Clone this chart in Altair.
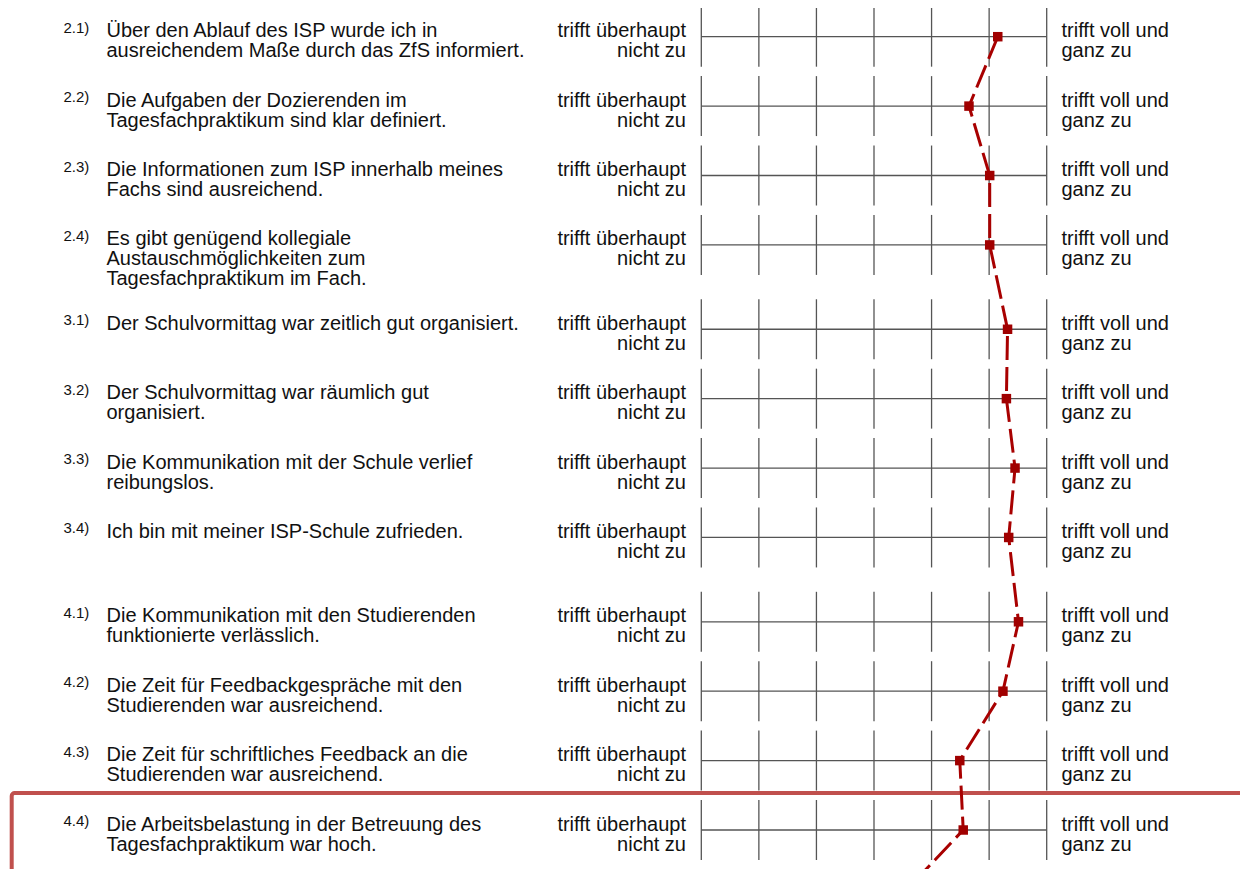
import altair as alt
import pandas as pd

# ---- data -------------------------------------------------------------
numbers = ["2.1)", "2.2)", "2.3)", "2.4)",
           "3.1)", "3.2)", "3.3)", "3.4)",
           "4.1)", "4.2)", "4.3)", "4.4)"]
groups = [0, 0, 0, 0, 1, 1, 1, 1, 2, 2, 2, 2]
statements = [
    ["Über den Ablauf des ISP wurde ich in", "ausreichendem Maße durch das ZfS informiert."],
    ["Die Aufgaben der Dozierenden im", "Tagesfachpraktikum sind klar definiert."],
    ["Die Informationen zum ISP innerhalb meines", "Fachs sind ausreichend."],
    ["Es gibt genügend kollegiale", "Austauschmöglichkeiten zum", "Tagesfachpraktikum im Fach."],
    ["Der Schulvormittag war zeitlich gut organisiert."],
    ["Der Schulvormittag war räumlich gut", "organisiert."],
    ["Die Kommunikation mit der Schule verlief", "reibungslos."],
    ["Ich bin mit meiner ISP-Schule zufrieden."],
    ["Die Kommunikation mit den Studierenden", "funktionierte verlässlich."],
    ["Die Zeit für Feedbackgespräche mit den", "Studierenden war ausreichend."],
    ["Die Zeit für schriftliches Feedback an die", "Studierenden war ausreichend."],
    ["Die Arbeitsbelastung in der Betreuung des", "Tagesfachpraktikum war hoch."],
]
values = [6.15, 5.65, 6.01, 6.01, 6.32, 6.30, 6.45, 6.34, 6.51, 6.24, 5.49, 5.55]
# the profile line continues to the next item, which lies below the visible area
next_value = 4.41
scale_ticks = [1, 2, 3, 4, 5, 6, 7]
left_label = ["trifft überhaupt", "nicht zu"]
right_label = ["trifft voll und", "ganz zu"]
highlight_item = "4.4)"

# ---- layout helpers ---------------------------------------------------
GROUP_GAP = 0.215   # extra space between item blocks (in row units)
HALF = 0.432        # half height of the vertical scale ticks (row units)
FONT = "Liberation Sans"
TEXT_SIZE = 20
LINE_RED = "#a80000"
BOX_RED = "#c0504d"

pos = [i + GROUP_GAP * g for i, g in enumerate(groups)]
rows = pd.DataFrame({
    "num": numbers,
    "text": statements,
    "value": values,
    "pos": pos,
    "lo": [p - HALF for p in pos],
    "hi": [p + HALF for p in pos],
    "xmin": min(scale_ticks),
    "xmax": max(scale_ticks),
    "left": [left_label] * len(numbers),
    "right": [right_label] * len(numbers),
})

ticks = pd.DataFrame([
    {"tick": t, "lo": r.lo, "hi": r.hi} for r in rows.itertuples() for t in scale_ticks
])

next_pos = len(numbers) + GROUP_GAP * groups[-1]
profile = pd.DataFrame({
    "value": values + [next_value],
    "pos": pos + [next_pos],
    "order": list(range(len(values) + 1)),
})

hl_pos = rows.loc[rows["num"] == highlight_item, "pos"].iloc[0]
highlight = pd.DataFrame({"top": [hl_pos - 0.533]})

xs = alt.Scale(domain=[1, 7], range=[693.3, 1038.7], zero=False, nice=False)
ys = alt.Scale(domain=[0, 11.43], range=[28.7, 822], zero=False, nice=False)

base = alt.Chart(rows)

vticks = alt.Chart(ticks).mark_rule(color="#555555", strokeWidth=1.3).encode(
    x=alt.X("tick:Q", scale=xs, axis=None),
    y=alt.Y("lo:Q", scale=ys, axis=None),
    y2="hi:Q",
)

hlines = base.mark_rule(color="#555555", strokeWidth=1.3).encode(
    x=alt.X("xmin:Q", scale=xs, axis=None),
    x2="xmax:Q",
    y=alt.Y("pos:Q", scale=ys, axis=None),
)

box = alt.Chart(highlight).mark_rect(
    filled=False, stroke=BOX_RED, strokeWidth=4, cornerRadius=3
).encode(
    x=alt.value(3.7),
    x2=alt.value(1300),
    y=alt.Y("top:Q", scale=ys, axis=None),
    y2=alt.value(950),
)

line = alt.Chart(profile).mark_line(
    color=LINE_RED, strokeWidth=3, strokeDash=[24, 7]
).encode(
    x=alt.X("value:Q", scale=xs, axis=None),
    y=alt.Y("pos:Q", scale=ys, axis=None),
    order="order:Q",
)

points = base.mark_point(
    shape="square", filled=True, size=90, color="#a00000", opacity=1
).encode(
    x=alt.X("value:Q", scale=xs, axis=None),
    y=alt.Y("pos:Q", scale=ys, axis=None),
)

num_text = base.mark_text(
    align="left", baseline="alphabetic", font=FONT, fontSize=15, dy=-4, color="#111111"
).encode(
    x=alt.value(55.5),
    y=alt.Y("pos:Q", scale=ys, axis=None),
    text="num:N",
)

stmt_text = base.mark_text(
    align="left", baseline="alphabetic", font=FONT, fontSize=TEXT_SIZE, lineHeight=20,
    dy=0.5, color="#111111"
).encode(
    x=alt.value(98.5),
    y=alt.Y("pos:Q", scale=ys, axis=None),
    text="text",
)

left_text = base.mark_text(
    align="right", baseline="alphabetic", font=FONT, fontSize=TEXT_SIZE, lineHeight=20,
    dy=0.5, color="#111111"
).encode(
    x=alt.value(678),
    y=alt.Y("pos:Q", scale=ys, axis=None),
    text="left",
)

right_text = base.mark_text(
    align="left", baseline="alphabetic", font=FONT, fontSize=TEXT_SIZE, lineHeight=20,
    dy=0.5, color="#111111"
).encode(
    x=alt.value(1053.5),
    y=alt.Y("pos:Q", scale=ys, axis=None),
    text="right",
)

chart = alt.layer(
    vticks, hlines, box, line, points, num_text, stmt_text, left_text, right_text
).properties(
    width=1232,
    height=861,
    autosize=alt.AutoSizeParams(type="none"),
    padding=0,
    background="white",
).configure_view(strokeWidth=0)

chart.save("out.html", embed_options={"renderer": "svg", "actions": False})
